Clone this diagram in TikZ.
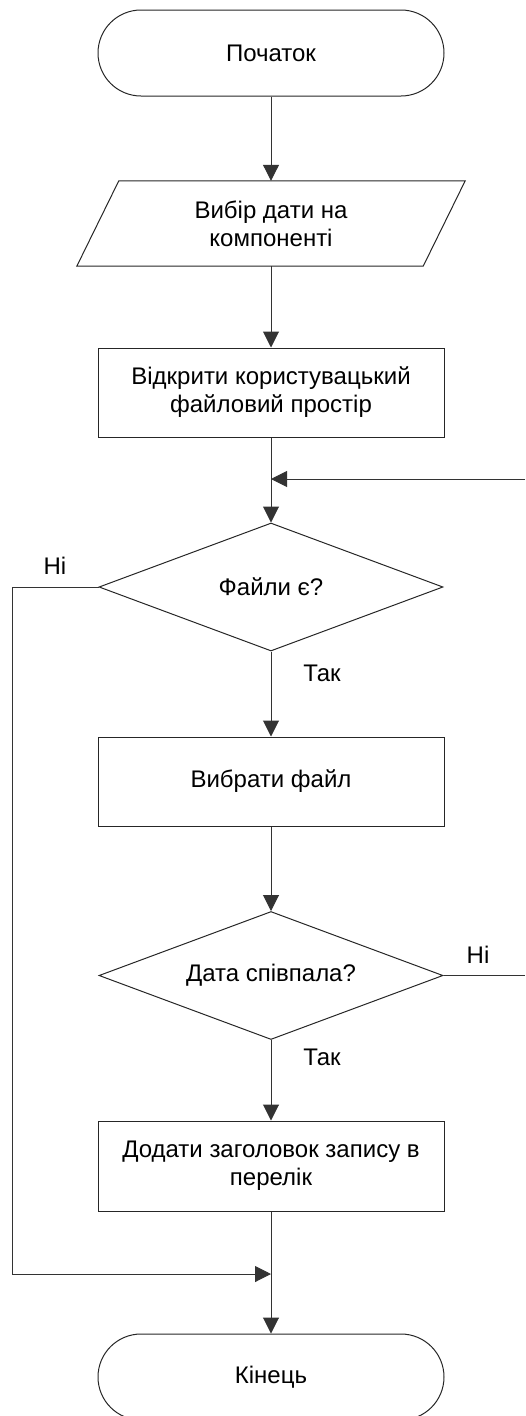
\documentclass[tikz,border=0pt]{standalone}
\usepackage{fontspec}
\setmainfont{Liberation Sans}
\usetikzlibrary{arrows.meta,shapes.geometric,calc}

\tikzset{
  base/.style={font=\fontsize{24}{28}\selectfont, text=black, align=center, inner sep=0pt},
  terminal/.style={base, draw=black!85, line width=1pt, rectangle, rounded corners=43pt,
    minimum width=346pt, minimum height=86pt},
  procbox/.style={base, draw=black!85, line width=1pt, rectangle,
    minimum width=346pt, minimum height=89pt},
  iobody/.style={base, minimum width=388pt, minimum height=85pt},
  decision/.style={base, draw=black!85, line width=1pt, diamond, shape aspect=2.6875,
    minimum width=344pt, minimum height=128pt},
  label/.style={base},
  link/.style={draw=black!80, line width=1pt},
  flow/.style={link, -{Triangle[length=16pt,width=16pt]}}
}

\begin{document}
\begin{tikzpicture}[x=1pt,y=-1pt]
  \clip (0,0) rectangle (525,1416);
  \useasboundingbox (0,0) rectangle (525,1416);

  % blocks of the flowchart
  \node[terminal] (start) at (271,53) {Початок};
  \node[iobody] (input) at (271,223.5) {Вибір дати на\\компоненті};
  \draw[draw=black!85, line width=1pt]
    (input.south west) -- ($(input.north west)+(42,0)$) -- (input.north east)
    -- ($(input.south east)+(-42,0)$) -- cycle;
  \node[procbox] (open) at (271,392.5) {Відкрити користувацький\\файловий простір};
  \node[decision] (files) at (271,587) {Файли є?};
  \node[procbox] (pick) at (271,781.5) {Вибрати файл};
  \node[decision] (match) at (271,975.5) {Дата співпала?};
  \node[procbox, minimum height=90pt] (add) at (271,1166) {Додати заголовок запису в\\перелік};
  \node[terminal] (finish) at (271,1377) {Кінець};

  % junction points and loose ends
  \coordinate (loopin) at (525,479);
  \coordinate (loopjoin) at (271,479);
  \coordinate (noleft) at (12,587);
  \coordinate (nodown) at (12,1274);
  \coordinate (merge) at (271,1274);
  \coordinate (noright) at (525,975.5);

  % connectors
  \draw[flow] (start.south) -- (input.north);
  \draw[flow] (input.south) -- (open.north);
  \draw[flow] (open.south) -- (files.north);
  \draw[flow] (loopin) -- (loopjoin);
  \draw[flow] (files.south) -- (pick.north);
  \draw[flow] (files.west) -- (noleft) -- (nodown) -- (merge);
  \draw[flow] (pick.south) -- (match.north);
  \draw[link] (match.east) -- (noright);
  \draw[flow] (match.south) -- (add.north);
  \draw[flow] (add.south) -- (finish.north);

  % branch labels
  \node[label] (no1) at (55,566) {Ні};
  \node[label] (yes1) at (322,673) {Так};
  \node[label] (no2) at (478,955) {Ні};
  \node[label] (yes2) at (322,1057) {Так};
\end{tikzpicture}
\end{document}
